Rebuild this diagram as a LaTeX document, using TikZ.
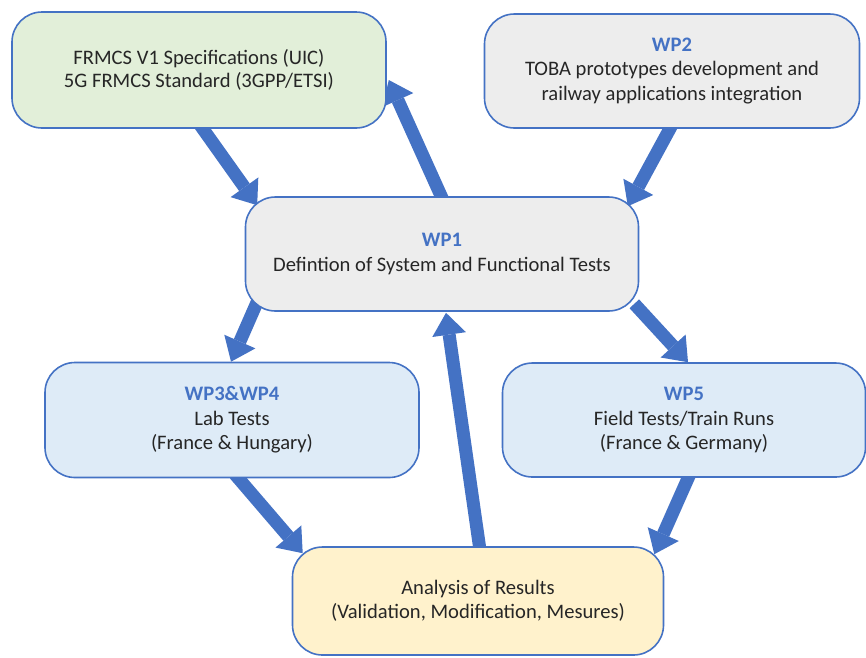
\documentclass[tikz,border=0pt]{standalone}
\usepackage{fontspec}
\setmainfont{Carlito}
\usetikzlibrary{arrows.meta,calc,backgrounds}
\definecolor{accent}{HTML}{4472C4}
\definecolor{specfill}{HTML}{E2EFD9}
\definecolor{greyfill}{HTML}{EDEDED}
\definecolor{bluefill}{HTML}{DEEBF7}
\definecolor{resfill}{HTML}{FFF2CC}
\definecolor{bodytext}{HTML}{262626}
\begin{document}
\begin{tikzpicture}[x=1pt,y=-1pt,
  box/.style={draw=accent, line width=1.6pt, rounded corners=30pt, align=center,
    inner sep=0pt, text=bodytext, font=\fontsize{20.6}{24.5}\selectfont},
  flow/.style={draw=accent, line width=13pt, line cap=butt,
    -{Triangle[width=34pt,length=22pt,line width=0pt]}}
]
\useasboundingbox (0,0) rectangle (866,657);

% work-package boxes
\node[box, fill=specfill, minimum width=374pt, minimum height=116pt,
  font=\fontsize{20.6}{22.5}\selectfont] (spec) at (199,70)
  {FRMCS V1 Specifications (UIC)\\5G FRMCS Standard (3GPP/ETSI)};
\node[box, fill=greyfill, minimum width=375pt, minimum height=114pt] (wpb) at (672,71)
  {{\color{accent}\bfseries WP2}\\TOBA prototypes development and\\railway applications integration};
\node[box, fill=greyfill, minimum width=393pt, minimum height=114pt] (wpa) at (442,254)
  {{\color{accent}\bfseries WP1}\\Defintion of System and Functional Tests};
\node[box, fill=bluefill, minimum width=374pt, minimum height=115pt] (lab) at (232,420)
  {{\color{accent}\bfseries WP3\&WP4}\\Lab Tests\\(France \& Hungary)};
\node[box, fill=bluefill, minimum width=363pt, minimum height=114pt] (field) at (684,420)
  {{\color{accent}\bfseries WP5}\\Field Tests/Train Runs\\(France \& Germany)};
\node[box, fill=resfill, minimum width=371pt, minimum height=108pt] (res) at (478,601)
  {Analysis of Results\\(Validation, Modification, Mesures)};

% block arrows, kept behind the boxes
\begin{scope}[on background layer]
  \draw[flow] ($(spec.south)+(1,-4)$) -- ($(wpa.north west)+(12.5,9)$);
  \draw[flow] ($(wpa.north)+(1,4)$) -- ($(spec.east)+(2,10)$);
  \draw[flow] ($(wpb.south)+(0,-4)$) -- ($(wpa.north east)+(-11.5,10)$);
  \draw[flow] ($(wpa.south west)+(13,-11)$) -- ($(lab.north)+(-1,0)$);
  \draw[flow] ($(wpa.south east)+(-5,-8)$) -- ($(field.north)+(4,0)$);
  \draw[flow] ($(res.north)+(2,4)$) -- ($(wpa.south)+(4,1)$);
  \draw[flow] ($(lab.south)+(3,-4)$) -- ($(res.north west)+(11,7)$);
  \draw[flow] ($(field.south)+(6,-4)$) -- ($(res.north east)+(-10,8)$);
\end{scope}
\end{tikzpicture}
\end{document}
